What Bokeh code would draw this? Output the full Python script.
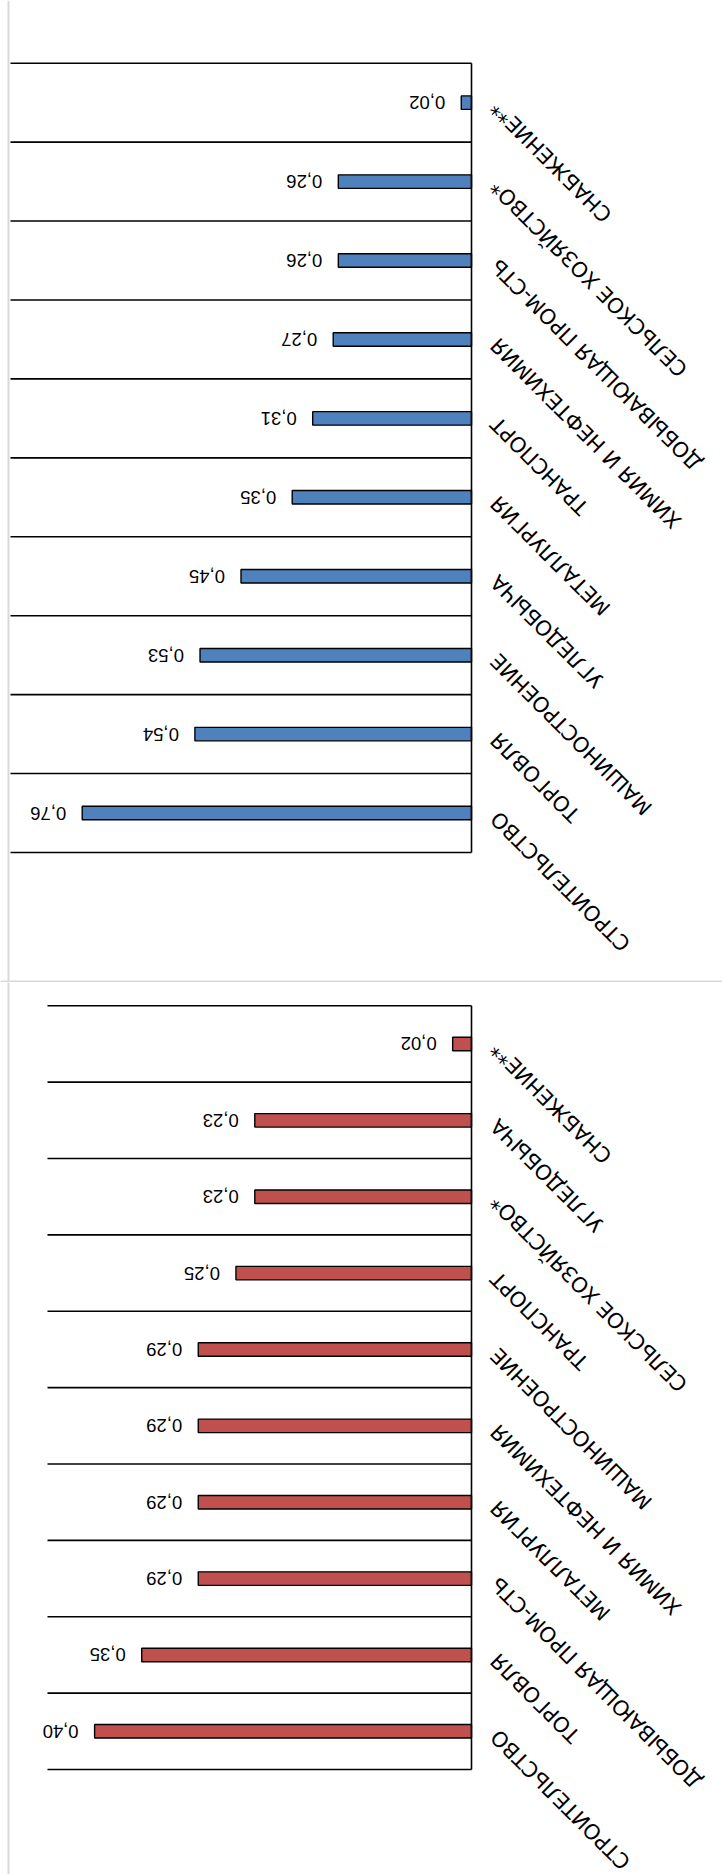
import math
from bokeh.plotting import figure
from bokeh.layouts import column
from bokeh.models import Range1d, Span, ColumnDataSource
from bokeh.core.properties import value
from bokeh.embed import file_html
from bokeh.resources import INLINE

# ---- data (top row first) ----
top_categories = ["СНАБЖЕНИЕ**", "СЕЛЬСКОЕ ХОЗЯЙСТВО*", "ДОБЫВАЮЩАЯ ПРОМ-СТЬ",
                  "ХИМИЯ И НЕФТЕХИМИЯ", "ТРАНСПОРТ", "МЕТАЛЛУРГИЯ", "УГЛЕДОБЫЧА",
                  "МАШИНОСТРОЕНИЕ", "ТОРГОВЛЯ", "СТРОИТЕЛЬСТВО"]
top_values = [0.02, 0.26, 0.26, 0.27, 0.31, 0.35, 0.45, 0.53, 0.54, 0.76]

bottom_categories = ["СНАБЖЕНИЕ**", "УГЛЕДОБЫЧА", "СЕЛЬСКОЕ ХОЗЯЙСТВО*", "ТРАНСПОРТ",
                     "МАШИНОСТРОЕНИЕ", "ХИМИЯ И НЕФТЕХИМИЯ", "МЕТАЛЛУРГИЯ",
                     "ДОБЫВАЮЩАЯ ПРОМ-СТЬ", "ТОРГОВЛЯ", "СТРОИТЕЛЬСТВО"]
bottom_values = [0.02, 0.23, 0.23, 0.25, 0.29, 0.29, 0.29, 0.29, 0.35, 0.40]

top_axis_max = 0.9
bottom_axis_max = 0.45

# ---- layout constants (pixels) ----
WIDTH = 722
AXIS_PX = 471          # frame x of the value axis (value 0)
BORDER = "#d9d9d9"


def fmt(v):
    return f"{v:.2f}".replace(".", ",")


def make_chart(cats, vals, fill, height, vmax, left_px, top_px, bottom_px, sep_bottom=False):
    ppu = (AXIS_PX - left_px) / vmax
    x_start = vmax + left_px / ppu
    x_end = -(WIDTH - AXIS_PX) / ppu
    n = len(cats)
    row_px = (bottom_px - top_px) / n
    y_top = -0.5 - top_px / row_px
    y_bottom = (n - 0.5) + (height - bottom_px) / row_px

    p = figure(width=WIDTH, height=height,
               x_range=Range1d(x_start, x_end), y_range=Range1d(y_bottom, y_top),
               x_axis_location=None, y_axis_location=None,
               toolbar_location=None, output_backend="svg",
               min_border=0, min_border_left=0, min_border_right=0,
               min_border_top=0, min_border_bottom=0,
               outline_line_color=None,
               background_fill_color="white", border_fill_color="white")
    p.xgrid.visible = False
    p.ygrid.visible = False

    idx = list(range(n))
    src = ColumnDataSource(dict(
        y=idx, v=vals, zero=[0] * n, cat=cats, lab=[fmt(v) for v in vals]))

    # category separators
    bounds = [i - 0.5 for i in range(n + 1)]
    p.segment(x0=[vmax] * len(bounds), y0=bounds, x1=[0] * len(bounds), y1=bounds,
              line_color="black", line_width=1.6)

    # bars
    p.hbar(y="y", left="zero", right="v", height=13.5 / row_px, source=src,
           fill_color=fill, line_color="black", line_width=1.4)

    # value axis line
    p.segment(x0=[0], y0=[bounds[0]], x1=[0], y1=[bounds[-1]],
              line_color="black", line_width=1.6)

    # value labels (upside down)
    p.text(x="v", y="y", text="lab", source=src, angle=math.pi,
           x_offset=-16, y_offset=0,
           text_align="left", text_baseline="middle",
           text_font=value("Liberation Sans"), text_font_size="18.5px",
           text_color="black")

    # category labels (diagonal, upside down)
    p.text(x="zero", y="y", text="cat", source=src, angle=3 * math.pi / 4,
           x_offset=23, y_offset=2,
           text_align="right", text_baseline="middle",
           text_font=value("DejaVu Sans"), text_font_size="21px",
           text_color="black")

    # chart-area borders
    p.add_layout(Span(location=x_start - 8.0 / ppu, dimension="height",
                      line_color=BORDER, line_width=2))
    if sep_bottom:
        p.add_layout(Span(location=y_top + (height - 1.0) / row_px, dimension="width",
                          line_color=BORDER, line_width=2))
    return p


p1 = make_chart(top_categories, top_values, "#4f81bd", 982, top_axis_max,
                left_px=10, top_px=62.7, bottom_px=852, sep_bottom=True)
p2 = make_chart(bottom_categories, bottom_values, "#c0504d", 892, bottom_axis_max,
                left_px=47, top_px=23.3, bottom_px=787)

layout = column(p1, p2, spacing=0)
open("out.html", "w").write(file_html(layout, INLINE))
